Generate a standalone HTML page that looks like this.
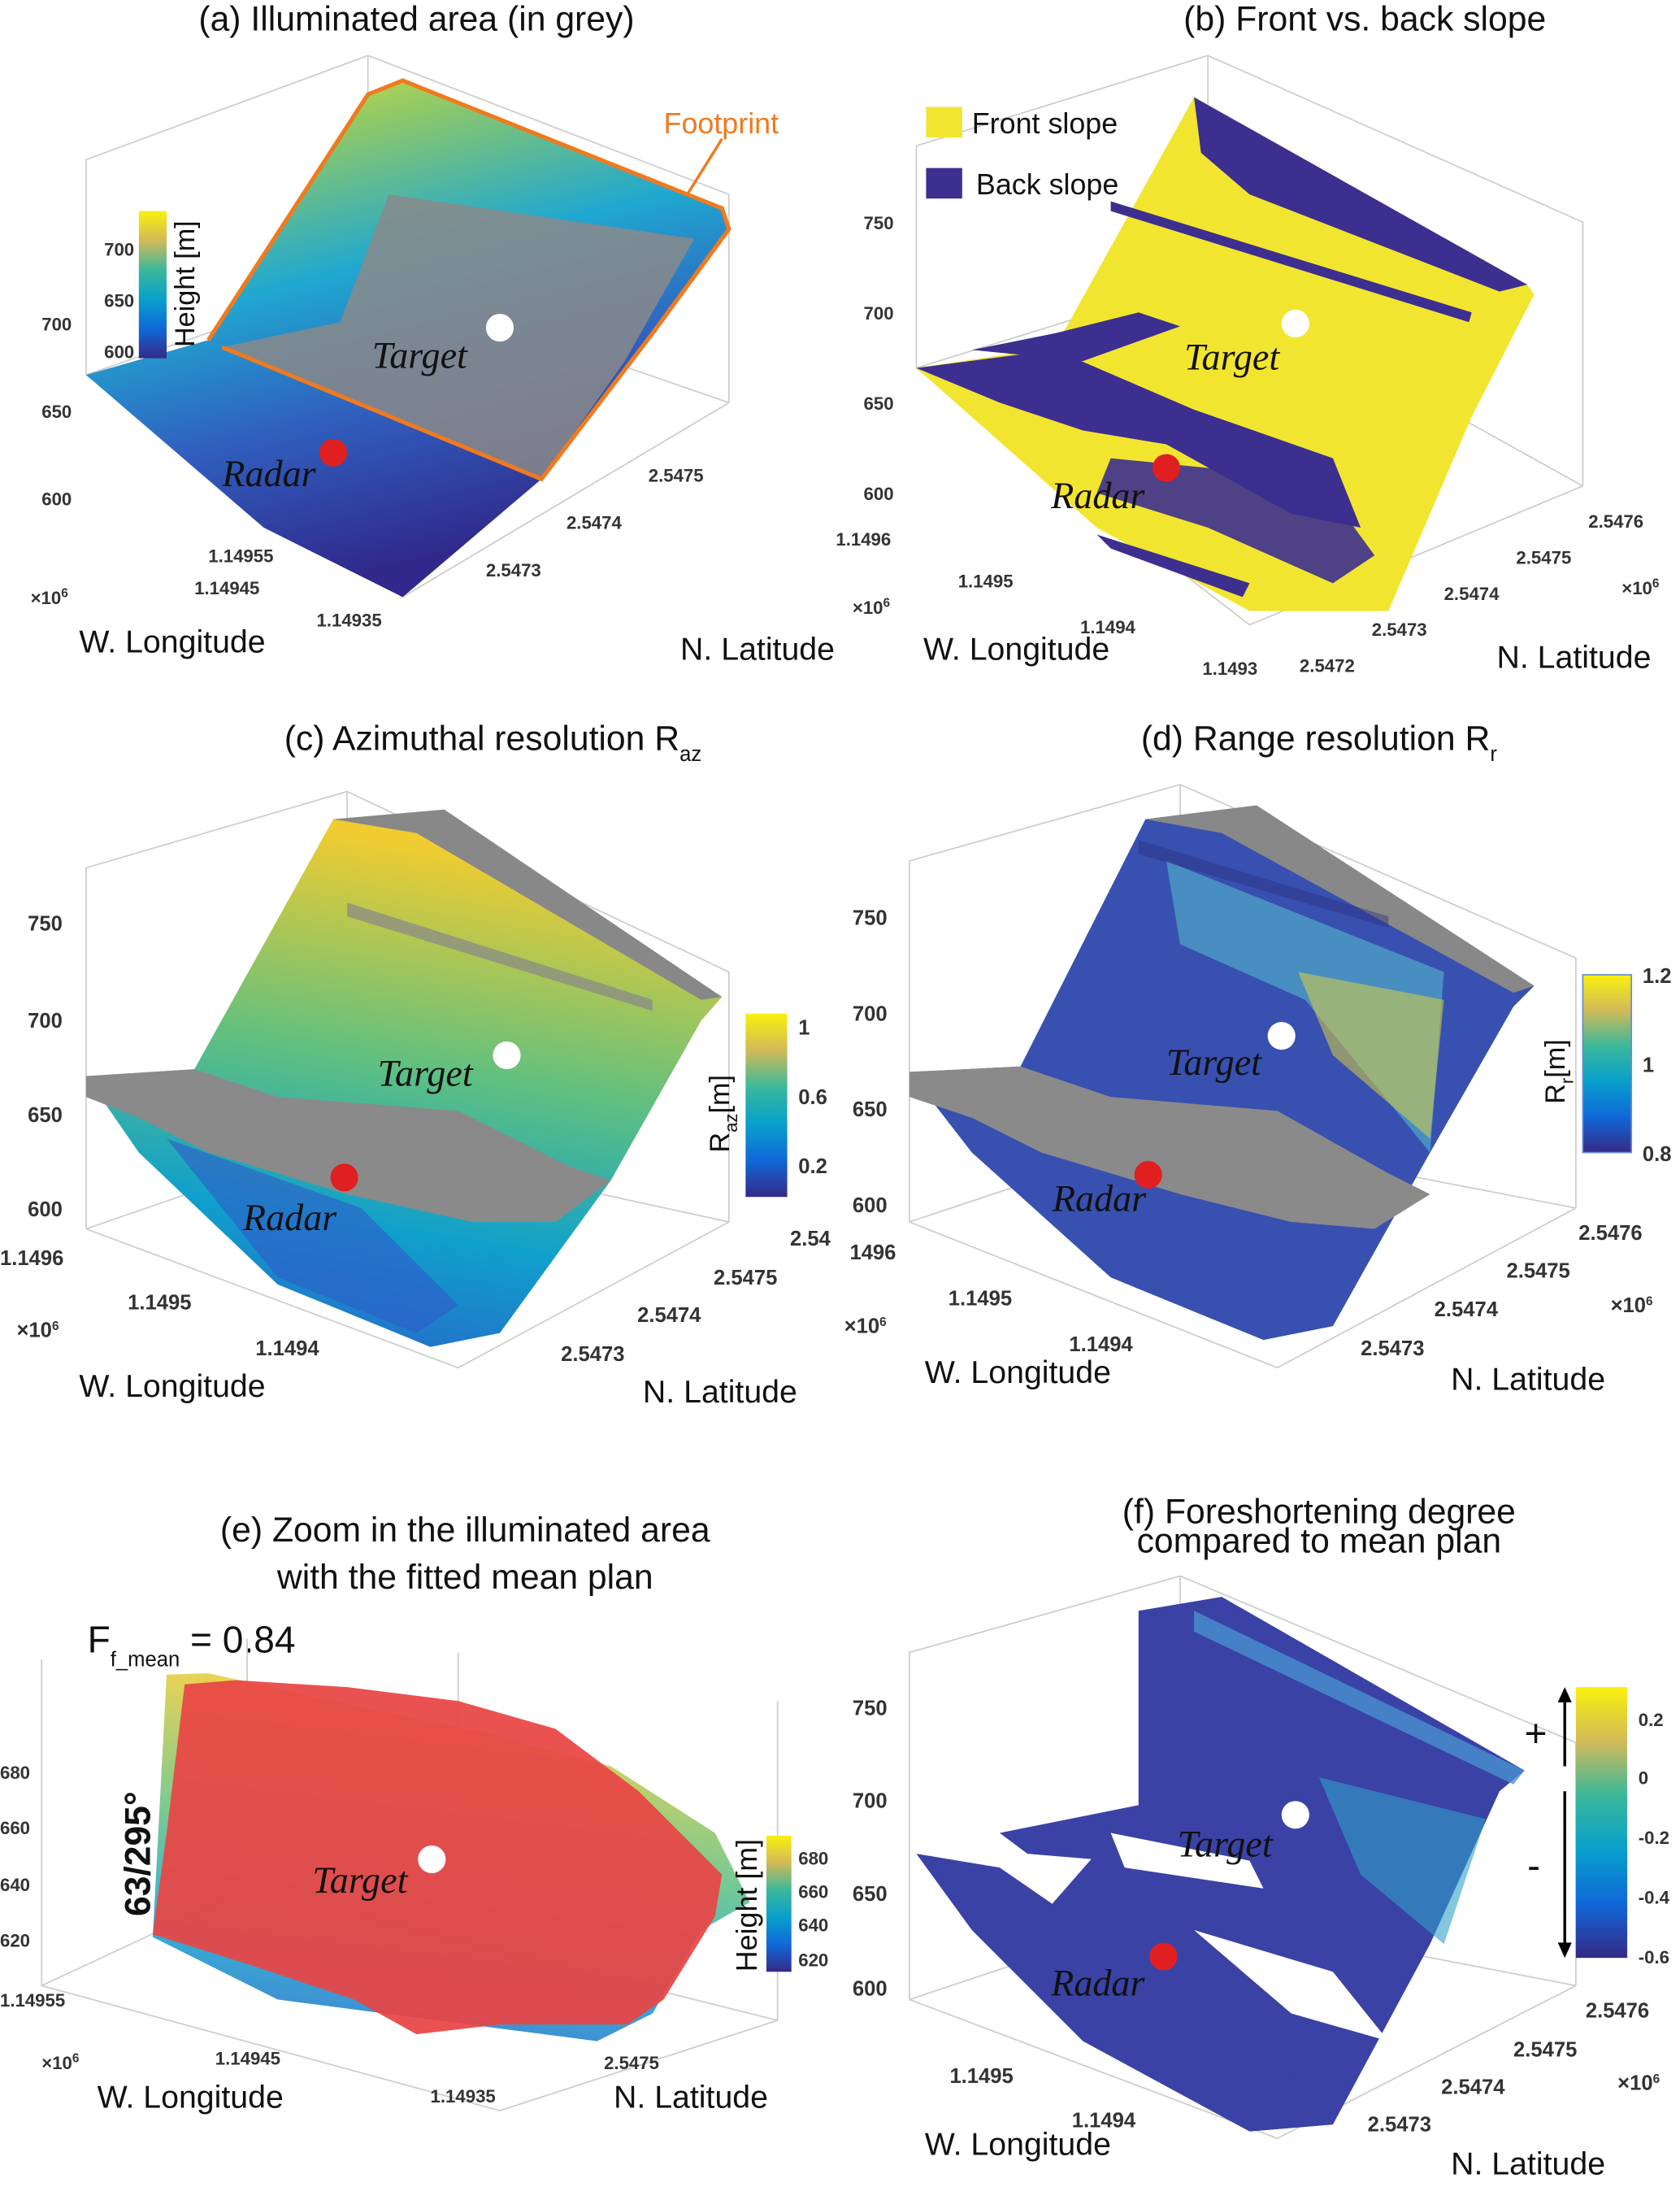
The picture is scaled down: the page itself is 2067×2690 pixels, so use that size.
<!DOCTYPE html>
<html><head><meta charset="utf-8"><style>
html,body{margin:0;padding:0;background:#fff}
svg{display:block}
text{font-family:"Liberation Sans",sans-serif;fill:#111}
.t{font-size:25px}
.k{font-size:13px;font-weight:bold;fill:#333}
.ax{font-size:23px}
.it{font-family:"Liberation Serif",serif;font-style:italic;font-size:27px}
.g{stroke:#ccc;stroke-width:1;fill:none}
</style></head><body>
<svg width="2067" height="2690" viewBox="0 0 1210 1575" preserveAspectRatio="none" xmlns="http://www.w3.org/2000/svg">
<defs>
<linearGradient id="ha" x1="0" y1="0" x2="0.3" y2="1">
<stop offset="0" stop-color="#e8e030"/><stop offset="0.2" stop-color="#8cc86a"/><stop offset="0.45" stop-color="#20a8d0"/><stop offset="0.7" stop-color="#3060c0"/><stop offset="1" stop-color="#30288a"/></linearGradient>
<linearGradient id="par" x1="0" y1="1" x2="0" y2="0">
<stop offset="0" stop-color="#352a87"/><stop offset="0.2" stop-color="#1068d8"/><stop offset="0.4" stop-color="#08a0cc"/><stop offset="0.6" stop-color="#3bb89a"/><stop offset="0.8" stop-color="#d2ba58"/><stop offset="1" stop-color="#f9f00e"/></linearGradient>
<linearGradient id="cz" x1="0" y1="1" x2="0.2" y2="0">
<stop offset="0" stop-color="#2a5fc8"/><stop offset="0.3" stop-color="#10a0cc"/><stop offset="0.6" stop-color="#60c080"/><stop offset="1" stop-color="#f0cc30"/></linearGradient>
</defs>

<!-- ===== (a) ===== -->
<text class="t" x="300" y="22" text-anchor="middle">(a) Illuminated area (in grey)</text>
<g class="g"><path d="M62,270 L62,115 L265,40 L525,140 L525,290 M62,270 L290,430 L525,290 M265,40 L265,200 L62,270 M265,200 L525,290"/></g>
<path d="M62,270 L150,245 L265,68 L290,58 L520,150 L525,165 L470,240 L390,345 L290,430 L190,380 Z" fill="url(#ha)"/>
<path d="M280,140 L500,172 L450,260 L390,345 L160,250 L245,232 Z" fill="#8a8a8a" opacity="0.85"/>
<path d="M150,245 L265,68 L290,58 L520,150 L525,165 L470,240 L390,345 L160,250" fill="none" stroke="#f07a1e" stroke-width="3"/>
<line x1="495" y1="140" x2="520" y2="100" stroke="#f07a1e" stroke-width="2"/>
<text x="478" y="96" style="font-size:21px;fill:#f07a1e">Footprint</text>
<circle cx="360" cy="236" r="10" fill="#fff"/><circle cx="240" cy="326" r="10" fill="#e02020"/>
<text class="it" x="268" y="265">Target</text><text class="it" x="160" y="350">Radar</text>
<rect x="100" y="152" width="20" height="106" fill="url(#par)"/>
<text class="k" x="75" y="184">700</text><text class="k" x="75" y="221">650</text><text class="k" x="75" y="258">600</text>
<text x="0" y="0" transform="translate(140,250) rotate(-90)" style="font-size:20px">Height [m]</text>
<text class="k" x="30" y="238">700</text><text class="k" x="30" y="301">650</text><text class="k" x="30" y="364">600</text>
<text class="k" x="150" y="405">1.14955</text><text class="k" x="140" y="428">1.14945</text><text class="k" x="228" y="451">1.14935</text>
<text class="k" x="22" y="435">×10<tspan dy="-5" font-size="9">6</tspan></text>
<text class="k" x="350" y="415">2.5473</text><text class="k" x="408" y="381">2.5474</text><text class="k" x="467" y="347">2.5475</text>
<text class="ax" x="57" y="470">W. Longitude</text><text class="ax" x="490" y="475">N. Latitude</text>

<!-- ===== (b) ===== -->
<text class="t" x="983" y="22" text-anchor="middle">(b) Front vs. back slope</text>
<g class="g"><path d="M660,265 L660,105 L870,40 L1140,160 L1140,350 M660,265 L900,450 L1140,350 M870,40 L870,200 L660,265 M870,200 L1140,350"/></g>
<path d="M660,265 L760,250 L860,70 L1100,205 L1105,212 L1060,300 L1000,440 L900,440 L790,380 Z" fill="#f2e530"/>
<path d="M860,70 L1100,205 L1080,210 L900,140 L865,110 Z" fill="#3c2f8f"/>
<path d="M660,265 L760,252 L860,295 L960,330 L980,380 L930,370 L840,320 L780,310 L720,290 Z" fill="#3c2f8f"/>
<path d="M800,330 L950,345 L990,400 L960,420 L870,380 L790,355 Z" fill="#3c2f8f" opacity="0.9"/>
<path d="M700,252 L760,240 L820,225 L850,235 L780,260 Z" fill="#3c2f8f"/>
<path d="M790,385 L900,420 L895,430 L800,395 Z" fill="#3c2f8f"/>
<path d="M800,145 L1060,225 L1058,232 L800,152 Z" fill="#3c2f8f"/>
<rect x="667" y="77" width="26" height="22" fill="#f2e530"/><text x="700" y="96" style="font-size:21px">Front slope</text>
<rect x="667" y="121" width="26" height="22" fill="#3c2f8f"/><text x="703" y="140" style="font-size:21px">Back slope</text>
<circle cx="933" cy="233" r="10" fill="#fff"/><circle cx="840" cy="337" r="10" fill="#e02020"/>
<text class="it" x="853" y="266">Target</text><text class="it" x="757" y="366">Radar</text>
<text class="k" x="622" y="165">750</text><text class="k" x="622" y="230">700</text><text class="k" x="622" y="295">650</text><text class="k" x="622" y="360">600</text>
<text class="k" x="602" y="393">1.1496</text><text class="k" x="690" y="423">1.1495</text><text class="k" x="778" y="456">1.1494</text><text class="k" x="866" y="486">1.1493</text>
<text class="k" x="614" y="442">×10<tspan dy="-5" font-size="9">6</tspan></text>
<text class="k" x="936" y="484">2.5472</text><text class="k" x="988" y="458">2.5473</text><text class="k" x="1040" y="432">2.5474</text><text class="k" x="1092" y="406">2.5475</text><text class="k" x="1144" y="380">2.5476</text>
<text class="k" x="1168" y="428">×10<tspan dy="-5" font-size="9">6</tspan></text>
<text class="ax" x="665" y="475">W. Longitude</text><text class="ax" x="1078" y="481">N. Latitude</text>

<!-- ===== (c) ===== -->
<text class="t" x="355" y="540" text-anchor="middle">(c)  Azimuthal resolution R<tspan dy="8" font-size="15">az</tspan></text>
<g class="g"><path d="M62,885 L62,625 L250,570 L525,700 L525,880 M62,885 L330,985 L525,880 M250,570 L250,820 L62,885 M250,820 L525,880"/></g>
<path d="M62,775 L140,770 L240,590 L320,583 L520,718 L505,735 L440,850 L360,960 L310,970 L200,925 L100,830 Z" fill="url(#cz)"/>
<path d="M240,590 L320,583 L520,718 L505,720 L300,600 Z" fill="#888"/>
<path d="M62,775 L140,770 L200,790 L330,800 L410,840 L440,850 L400,880 L340,880 L250,860 L150,830 L100,805 L62,790 Z" fill="#8a8a8a"/>
<path d="M250,650 L470,720 L470,728 L250,660 Z" fill="#888" opacity="0.7"/>
<path d="M120,820 L260,870 L330,940 L300,960 L200,920 Z" fill="#2f5cc8" opacity="0.6"/>
<circle cx="365" cy="760" r="10" fill="#fff"/><circle cx="248" cy="848" r="10" fill="#e02020"/>
<text class="it" x="272" y="782">Target</text><text class="it" x="175" y="886">Radar</text>
<rect x="537" y="730" width="30" height="132" fill="url(#par)"/>
<text class="k" x="575" y="745" style="font-size:15px">1</text><text class="k" x="575" y="795" style="font-size:15px">0.6</text><text class="k" x="575" y="845" style="font-size:15px">0.2</text>
<text x="0" y="0" transform="translate(525,830) rotate(-90)" style="font-size:20px">R<tspan dy="6" font-size="13">az</tspan><tspan dy="-6">[m]</tspan></text>
<text class="k" x="20" y="670" style="font-size:15px">750</text><text class="k" x="20" y="740" style="font-size:15px">700</text><text class="k" x="20" y="808" style="font-size:15px">650</text><text class="k" x="20" y="876" style="font-size:15px">600</text>
<text class="k" x="0" y="911" style="font-size:15px">1.1496</text><text class="k" x="92" y="943" style="font-size:15px">1.1495</text><text class="k" x="184" y="976" style="font-size:15px">1.1494</text>
<text class="k" x="12" y="963" style="font-size:15px">×10<tspan dy="-5" font-size="9">6</tspan></text>
<text class="k" x="404" y="980" style="font-size:15px">2.5473</text><text class="k" x="459" y="952" style="font-size:15px">2.5474</text><text class="k" x="514" y="925" style="font-size:15px">2.5475</text><text class="k" x="569" y="897" style="font-size:15px">2.54</text>
<text class="ax" x="57" y="1006">W. Longitude</text><text class="ax" x="463" y="1010">N. Latitude</text>

<!-- ===== (d) ===== -->
<text class="t" x="950" y="540" text-anchor="middle">(d) Range resolution R<tspan dy="8" font-size="15">r</tspan></text>
<g class="g"><path d="M655,880 L655,620 L850,565 L1135,690 L1135,870 M655,880 L920,985 L1135,870 M850,565 L850,815 L655,880 M850,815 L1135,870"/></g>
<path d="M655,772 L735,768 L825,590 L905,580 L1105,710 L1090,725 L1030,830 L960,955 L910,965 L800,920 L700,830 Z" fill="#3850b0"/>
<path d="M825,590 L905,580 L1105,710 L1090,715 L880,600 Z" fill="#888"/>
<path d="M840,620 L1040,700 L1030,830 L940,720 L850,680 Z" fill="#50a8c8" opacity="0.7"/>
<path d="M935,700 L1040,720 L1030,820 L960,760 Z" fill="#d8d040" opacity="0.55"/>
<path d="M655,772 L735,768 L800,790 L920,800 L1000,845 L1030,860 L990,885 L930,880 L850,860 L750,830 L700,805 L655,790 Z" fill="#8a8a8a"/>
<path d="M820,605 L1000,660 L1000,668 L820,615 Z" fill="#2a2a7a" opacity="0.4"/>
<circle cx="923" cy="746" r="10" fill="#fff"/><circle cx="827" cy="846" r="10" fill="#e02020"/>
<text class="it" x="840" y="774">Target</text><text class="it" x="758" y="872">Radar</text>
<rect x="1140" y="702" width="35" height="128" fill="url(#par)" stroke="#6a8ad0"/>
<text class="k" x="1183" y="708" style="font-size:15px">1.2</text><text class="k" x="1183" y="772" style="font-size:15px">1</text><text class="k" x="1183" y="836" style="font-size:15px">0.8</text>
<text x="0" y="0" transform="translate(1127,795) rotate(-90)" style="font-size:20px">R<tspan dy="6" font-size="13">r</tspan><tspan dy="-6">[m]</tspan></text>
<text class="k" x="614" y="666" style="font-size:15px">750</text><text class="k" x="614" y="735" style="font-size:15px">700</text><text class="k" x="614" y="804" style="font-size:15px">650</text><text class="k" x="614" y="873" style="font-size:15px">600</text>
<text class="k" x="612" y="907" style="font-size:15px">1496</text><text class="k" x="683" y="940" style="font-size:15px">1.1495</text><text class="k" x="770" y="973" style="font-size:15px">1.1494</text>
<text class="k" x="608" y="960" style="font-size:15px">×10<tspan dy="-5" font-size="9">6</tspan></text>
<text class="k" x="980" y="976" style="font-size:15px">2.5473</text><text class="k" x="1033" y="948" style="font-size:15px">2.5474</text><text class="k" x="1085" y="920" style="font-size:15px">2.5475</text><text class="k" x="1137" y="893" style="font-size:15px">2.5476</text>
<text class="k" x="1160" y="945" style="font-size:15px">×10<tspan dy="-5" font-size="9">6</tspan></text>
<text class="ax" x="666" y="996">W. Longitude</text><text class="ax" x="1045" y="1001">N. Latitude</text>

<!-- ===== (e) ===== -->
<text class="t" x="335" y="1110" text-anchor="middle">(e) Zoom in the illuminated area</text>
<text class="t" x="335" y="1144" text-anchor="middle">with the fitted mean plan</text>
<text x="63" y="1190" style="font-size:27px">F<tspan dy="10" font-size="15">f_mean</tspan><tspan dy="-10"> = 0.84</tspan></text>
<g class="g"><path d="M30,1195 L30,1430 L360,1520 L560,1455 L560,1225 M30,1430 L180,1360 L560,1455 M178,1180 L178,1360 M330,1190 L330,1360"/></g>
<path d="M120,1206 L150,1205 L240,1225 L350,1248 L440,1272 L515,1320 L540,1370 L505,1390 L470,1450 L430,1470 L200,1440 L110,1395 Z" fill="url(#cz)" opacity="0.85"/>
<path d="M133,1213 L170,1210 L250,1215 L330,1225 L400,1245 L460,1290 L520,1350 L515,1380 L478,1440 L452,1458 L360,1458 L300,1465 L255,1440 L180,1415 L110,1393 L120,1320 Z" fill="#e84545" opacity="0.93"/>
<circle cx="311" cy="1339" r="10" fill="#fff"/>
<text class="it" x="225" y="1363">Target</text>
<text x="0" y="0" transform="translate(108,1380) rotate(-90)" style="font-size:26px;font-weight:bold">63/295°</text>
<rect x="552" y="1322" width="18" height="98" fill="url(#par)"/>
<text class="k" x="575" y="1343" style="font-size:13px">680</text><text class="k" x="575" y="1367" style="font-size:13px">660</text><text class="k" x="575" y="1391" style="font-size:13px">640</text><text class="k" x="575" y="1416" style="font-size:13px">620</text>
<text x="0" y="0" transform="translate(545,1420) rotate(-90)" style="font-size:21px">Height [m]</text>
<text class="k" x="0" y="1281">680</text><text class="k" x="0" y="1321">660</text><text class="k" x="0" y="1362">640</text><text class="k" x="0" y="1402">620</text>
<text class="k" x="0" y="1445">1.14955</text><text class="k" x="155" y="1487">1.14945</text><text class="k" x="310" y="1514">1.14935</text>
<text class="k" x="30" y="1490">×10<tspan dy="-5" font-size="9">6</tspan></text>
<text class="k" x="435" y="1490">2.5475</text>
<text class="ax" x="70" y="1518">W. Longitude</text><text class="ax" x="442" y="1518">N. Latitude</text>

<!-- ===== (f) ===== -->
<text class="t" x="950" y="1097" text-anchor="middle">(f)  Foreshortening degree</text>
<text class="t" x="950" y="1118" text-anchor="middle">compared to mean plan</text>
<g class="g"><path d="M655,1440 L655,1190 L850,1135 L1135,1255 L1135,1430 M655,1440 L920,1540 L1135,1430 M850,1135 L850,1375 L655,1440 M850,1375 L1135,1430"/></g>
<path d="M820,1160 L880,1150 L1098,1275 L1080,1290 L1030,1400 L960,1530 L900,1535 L800,1470 L720,1390 L750,1380 L820,1300 Z" fill="#3a42a6"/>
<path d="M660,1335 L720,1345 L800,1400 L900,1460 L960,1530 L900,1535 L780,1470 L700,1390 Z" fill="#3a42a6"/>
<path d="M720,1320 L820,1300 L800,1340 L740,1335 Z" fill="#3a42a6"/>
<path d="M860,1160 L1098,1275 L1090,1285 L860,1175 Z" fill="#4a90d0" opacity="0.8"/>
<path d="M950,1280 L1070,1310 L1040,1400 L980,1350 Z" fill="#30a0c8" opacity="0.6"/>
<path d="M800,1320 L900,1340 L910,1360 L810,1345 Z" fill="#fff"/>
<path d="M860,1390 L960,1420 L1000,1470 L930,1450 Z" fill="#fff"/>
<circle cx="933" cy="1307" r="10" fill="#fff"/><circle cx="838" cy="1409" r="10" fill="#e02020"/>
<text class="it" x="848" y="1337">Target</text><text class="it" x="757" y="1437">Radar</text>
<rect x="1135" y="1215" width="37" height="195" fill="url(#par)"/>
<text class="k" x="1180" y="1243" style="font-size:13px">0.2</text><text class="k" x="1180" y="1285" style="font-size:13px">0</text><text class="k" x="1180" y="1328" style="font-size:13px">-0.2</text><text class="k" x="1180" y="1371" style="font-size:13px">-0.4</text><text class="k" x="1180" y="1414" style="font-size:13px">-0.6</text>
<line x1="1127" y1="1220" x2="1127" y2="1272" stroke="#000" stroke-width="2"/><path d="M1122,1226 L1127,1215 L1132,1226 Z"/>
<line x1="1127" y1="1290" x2="1127" y2="1405" stroke="#000" stroke-width="2"/><path d="M1122,1399 L1127,1410 L1132,1399 Z"/>
<text x="1098" y="1258" style="font-size:28px">+</text><text x="1100" y="1353" style="font-size:28px">-</text>
<text class="k" x="614" y="1235" style="font-size:15px">750</text><text class="k" x="614" y="1302" style="font-size:15px">700</text><text class="k" x="614" y="1369" style="font-size:15px">650</text><text class="k" x="614" y="1437" style="font-size:15px">600</text>
<text class="k" x="684" y="1500" style="font-size:15px">1.1495</text><text class="k" x="772" y="1532" style="font-size:15px">1.1494</text>
<text class="k" x="985" y="1535" style="font-size:15px">2.5473</text><text class="k" x="1038" y="1508" style="font-size:15px">2.5474</text><text class="k" x="1090" y="1481" style="font-size:15px">2.5475</text><text class="k" x="1142" y="1453" style="font-size:15px">2.5476</text>
<text class="k" x="1165" y="1505" style="font-size:15px">×10<tspan dy="-5" font-size="9">6</tspan></text>
<text class="ax" x="666" y="1552">W. Longitude</text><text class="ax" x="1045" y="1566">N. Latitude</text>
</svg>
</body></html>
